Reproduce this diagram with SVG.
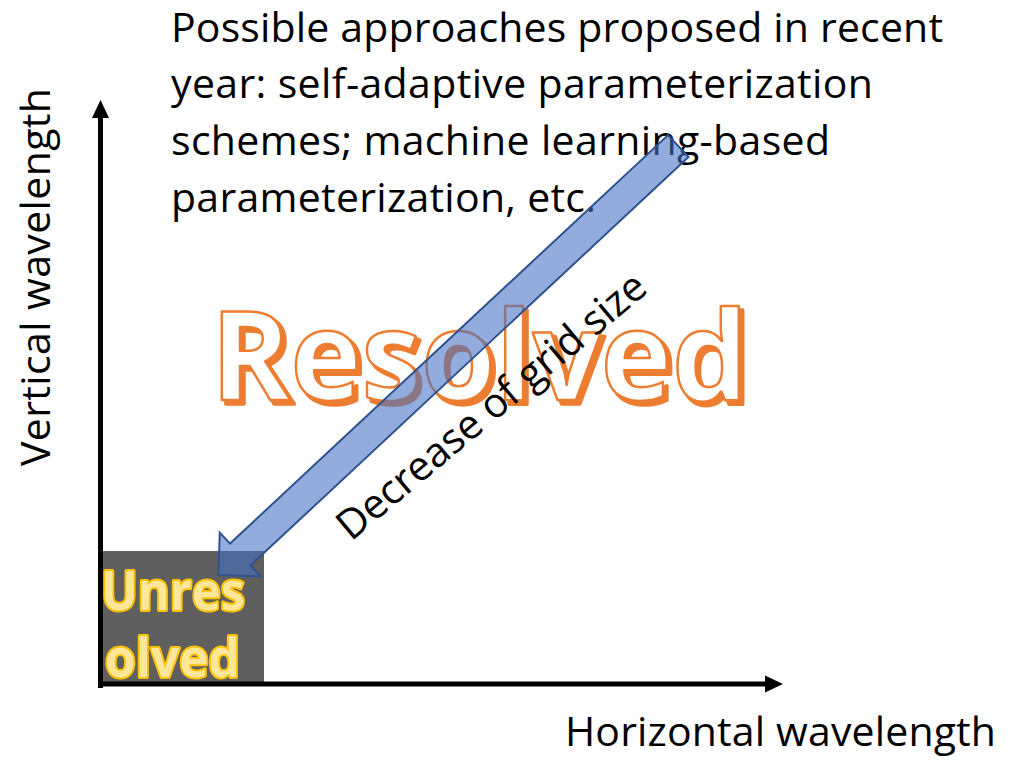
<svg xmlns="http://www.w3.org/2000/svg" width="1012" height="765" viewBox="0 0 1012 765">
  <style>
    .txt { font-family: "Open Sans", "Liberation Sans", sans-serif; font-size: 41px; fill: #000000; }
    .res { font-family: "Open Sans", "Liberation Sans", sans-serif; font-weight: 700; font-size: 124px; }
    .unres { font-family: "Open Sans", "Liberation Sans", sans-serif; font-weight: 700; font-size: 54px; fill: #FFE699; stroke: #FFC000; stroke-width: 4; paint-order: stroke fill; stroke-linejoin: round; }
    .axis { stroke: #000000; stroke-width: 5; fill: none; }
  </style>
  <defs>
    <polygon id="axishead" points="0,0 -18,-8.5 -18,8.5" fill="#000000"/>
  </defs>
  <rect width="1012" height="765" fill="#FFFFFF"/>

  <g id="unresolved-region">
    <rect x="101" y="551" width="163" height="132" fill="#5F5F5F"/>
    <text class="unres" x="101" y="610" textLength="144" lengthAdjust="spacingAndGlyphs">Unres</text>
    <text class="unres" x="105" y="677" textLength="135" lengthAdjust="spacingAndGlyphs">olved</text>
  </g>

  <g id="note">
    <text class="txt" x="171" y="42" textLength="772">Possible approaches proposed in recent</text>
    <text class="txt" x="171" y="98" textLength="702">year: self-adaptive parameterization</text>
    <text class="txt" x="171" y="155" textLength="659">schemes; machine learning-based</text>
    <text class="txt" x="171" y="212" textLength="425">parameterization, etc.</text>
  </g>

  <g id="resolved-region">
    <text class="res" x="215" y="404" textLength="537" lengthAdjust="spacingAndGlyphs" fill="#ED7D31" stroke="#ED7D31" stroke-width="3.5" stroke-linejoin="round">Resolved</text>
    <text class="res" x="211" y="400" textLength="537" lengthAdjust="spacingAndGlyphs" fill="#FFFFFF" stroke="#ED7D31" stroke-width="2.5" stroke-linejoin="round">Resolved</text>
  </g>

  <g id="y-label">
    <text class="txt" transform="translate(50,466) rotate(-90)" textLength="378">Vertical wavelength</text>
  </g>
  <g id="x-label">
    <text class="txt" x="565" y="746" textLength="431">Horizontal wavelength</text>
  </g>

  <g id="connectors">
    <line class="axis" x1="100.5" y1="688" x2="100.5" y2="116"/>
    <use href="#axishead" transform="translate(100.5,100) rotate(-90)"/>
    <line class="axis" x1="98" y1="684" x2="767" y2="684"/>
    <use href="#axishead" transform="translate(783,684)"/>
    <g id="grid-arrow" transform="translate(218.3,575) rotate(137)">
      <polygon points="0,0 -30,-30 -30,-15 -629,-15 -629,15 -30,15 -30,30" fill="#4472C4" fill-opacity="0.58" stroke="#2F528F" stroke-width="2" stroke-linejoin="miter"/>
    </g>
    <text class="txt" transform="translate(351,542) rotate(-40)" textLength="390">Decrease of grid size</text>
  </g>
</svg>
